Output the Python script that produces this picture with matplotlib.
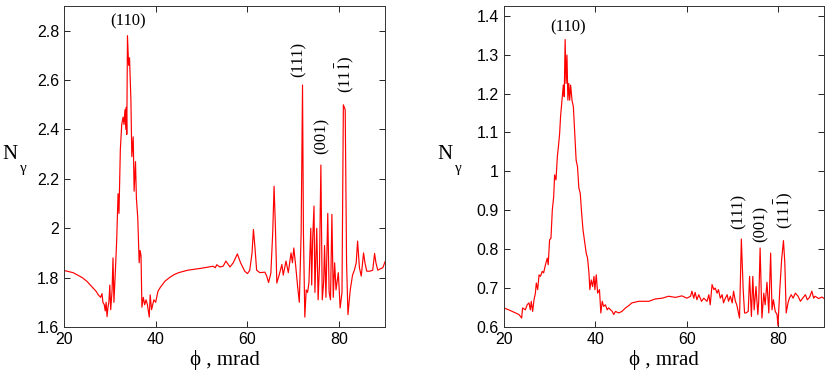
import matplotlib
matplotlib.use("Agg")
import matplotlib.pyplot as plt

plt.rcParams['mathtext.fontset'] = 'stix'

# left panel: N_gamma vs phi
phi_a = [20.0, 22.0, 24.0, 25.0, 26.0, 27.0, 27.5, 28.0, 28.3, 28.5, 28.8, 29.0, 29.2, 29.4, 29.6, 29.8,
         30.0, 30.2, 30.5, 30.7, 30.9, 31.2, 31.5, 31.8, 32.0, 32.3, 32.6, 32.9, 33.1,
         33.3, 33.5, 33.6, 33.7, 33.85, 34.1, 34.3, 34.6, 34.8, 35.1, 35.3, 35.6, 35.8,
         36.1, 36.4, 36.6, 36.8, 37.0, 37.3, 37.6, 37.9, 38.2, 38.6, 38.8, 39.1, 39.6,
         40.0, 40.5, 41.0, 42.0, 43.0, 44.0, 45.0, 47.0, 50.0, 52.5, 53.0, 53.3, 54.0, 54.7, 55.3,
         56.2, 56.9, 57.8, 58.5, 59.4, 60.0, 60.5, 61.0, 61.3, 61.6, 62.0, 62.7, 63.8,
         64.2, 64.6, 65.1, 65.5, 65.8, 66.1, 66.4, 66.9, 67.5, 67.8, 68.4, 68.9, 69.5,
         69.8, 70.1, 70.5, 70.9, 71.3, 71.7, 72.0, 72.2, 72.5, 72.8, 73.1, 73.4, 73.8,
         74.0, 74.2, 74.5, 74.7, 75.1, 75.4, 75.7, 76.0, 76.3, 76.6, 76.8, 77.1, 77.5,
         77.8, 78.1, 78.4, 78.7, 79.0, 79.3, 79.8, 80.2, 80.6, 80.9, 81.3, 81.6, 81.9,
         82.4, 82.9, 83.3, 83.7, 84.0, 84.4, 84.8, 85.3, 85.6, 86.0, 86.7, 87.3, 87.7,
         88.0, 88.4, 88.9, 89.5, 90.0]
n_a = [1.829, 1.82, 1.80, 1.785, 1.765, 1.745, 1.73, 1.72, 1.735, 1.70, 1.69, 1.665, 1.70, 1.642, 1.68, 1.70,
       1.77, 1.67, 1.75, 1.88, 1.70, 1.82, 1.95, 2.14, 2.06, 2.32, 2.42, 2.45, 2.42,
       2.48, 2.40, 2.49, 2.38, 2.78, 2.66, 2.69, 2.52, 2.29, 2.37, 2.15, 2.27, 2.12,
       2.04, 1.86, 1.91, 1.89, 1.68, 1.72, 1.69, 1.71, 1.69, 1.64, 1.73, 1.67, 1.71,
       1.70, 1.745, 1.76, 1.785, 1.80, 1.812, 1.82, 1.83, 1.838, 1.846, 1.84, 1.852, 1.843, 1.846, 1.867,
       1.843, 1.86, 1.896, 1.86, 1.826, 1.816, 1.83, 1.90, 1.995, 1.93, 1.83, 1.82, 1.822,
       1.806, 1.78, 1.818, 1.98, 2.17, 2.0, 1.778, 1.81, 1.853, 1.81, 1.867, 1.82, 1.90,
       1.86, 1.92, 1.85, 1.77, 1.70, 1.98, 2.58, 1.98, 1.64, 1.75, 1.74, 1.78, 2.0,
       1.77, 1.95, 2.09, 1.74, 2.0, 1.71, 1.85, 2.256, 1.71, 1.78, 1.93, 1.72, 2.06,
       1.74, 1.71, 2.056, 1.72, 1.86, 1.75, 1.82, 1.677, 1.74, 2.50, 2.48, 1.86, 1.65,
       1.75, 1.81, 1.83, 1.86, 1.948, 1.84, 1.806, 1.90, 1.86, 1.826, 1.826, 1.83, 1.898,
       1.86, 1.83, 1.835, 1.84, 1.865]

# right panel
phi_b = [20.0, 21.1, 22.2, 23.3, 23.9, 24.1, 24.7, 25.1, 25.5, 25.8, 26.0, 26.3, 26.6,
         26.9, 27.1, 27.4, 27.7, 28.0, 28.4, 28.7, 29.1, 29.5, 29.7, 30.0, 30.3, 30.6,
         30.9, 31.1, 31.4, 31.7, 32.0, 32.2, 32.4, 32.7, 33.0, 33.2, 33.4, 33.6, 33.8,
         34.0, 34.2, 34.4, 34.6, 34.9, 35.2, 35.5, 35.8, 36.1, 36.4, 36.7, 37.0, 37.3,
         37.7, 38.0, 38.3, 38.6, 38.8, 39.1, 39.4, 39.7, 39.9, 40.2, 40.5, 40.9, 41.2,
         41.5, 41.8, 42.2, 42.6, 42.9, 43.7, 44.0, 44.4, 45.1, 45.8, 46.6, 47.3, 48.0,
         49.5, 51.7, 53.1, 54.6, 56.0, 57.5, 58.9, 60.0, 60.8, 61.1, 61.5, 61.8, 62.2,
         62.6, 63.2, 63.7, 64.4, 64.8, 65.1, 65.5, 65.9, 66.2, 66.6, 66.9, 67.3, 67.7,
         68.0, 68.4, 68.8, 69.1, 69.5, 69.9, 70.2, 70.6, 70.9, 71.5, 71.9, 72.3, 72.6,
         72.9, 73.4, 73.7, 74.1, 74.4, 74.7, 75.1, 75.5, 75.7, 76.0, 76.4, 76.8, 77.1,
         77.5, 77.9, 78.3, 78.6, 78.9, 79.3, 79.7, 79.9, 80.3, 80.7, 81.1, 81.4, 81.7,
         82.1, 82.4, 82.8, 83.2, 83.7, 84.3, 84.8, 85.3, 85.9, 86.3, 86.8, 87.3, 87.7,
         88.0, 88.8, 89.5, 90.0]
n_b = [0.649, 0.644, 0.638, 0.632, 0.623, 0.649, 0.644, 0.657, 0.662, 0.644, 0.666, 0.640, 0.670,
       0.687, 0.713, 0.696, 0.734, 0.730, 0.743, 0.739, 0.760, 0.777, 0.760, 0.824, 0.828, 0.901,
       0.935, 0.991, 0.978, 1.038, 1.072, 1.098, 1.141, 1.183, 1.222, 1.192, 1.339, 1.226, 1.299,
       1.183, 1.226, 1.183, 1.222, 1.183, 1.166, 1.098, 1.029, 1.012, 0.957, 0.944, 0.893, 0.850,
       0.816, 0.790, 0.777, 0.739, 0.696, 0.721, 0.704, 0.730, 0.696, 0.734, 0.687, 0.696, 0.636,
       0.666, 0.653, 0.657, 0.644, 0.649, 0.640, 0.632, 0.640, 0.636, 0.640, 0.649, 0.655, 0.662,
       0.666, 0.666, 0.672, 0.674, 0.679, 0.676, 0.680, 0.674, 0.679, 0.692, 0.674, 0.689, 0.670,
       0.683, 0.666, 0.674, 0.666, 0.683, 0.657, 0.709, 0.696, 0.700, 0.687, 0.696, 0.674, 0.683,
       0.662, 0.674, 0.683, 0.666, 0.679, 0.662, 0.692, 0.666, 0.657, 0.623, 0.826, 0.696, 0.636,
       0.636, 0.640, 0.730, 0.627, 0.730, 0.644, 0.704, 0.632, 0.666, 0.803, 0.623, 0.687, 0.657,
       0.715, 0.636, 0.790, 0.644, 0.670, 0.640, 0.632, 0.603, 0.696, 0.773, 0.822, 0.764, 0.636,
       0.662, 0.674, 0.683, 0.674, 0.687, 0.679, 0.666, 0.674, 0.683, 0.670, 0.676, 0.692, 0.674,
       0.679, 0.673, 0.677, 0.673]

labels = ["(110)", "(111)", "(001)", r"(11$\bar{1}$)"]
lab_x = [34.0, 71.2, 76.2, 81.3]
lab_y_a = [2.836, 2.684, 2.373, 2.625]
lab_y_b = [1.371, 0.897, 0.866, 0.899]

fig = plt.figure(figsize=(8.3, 3.78), dpi=100)
ax1 = fig.add_axes([0.077, 0.135, 0.387, 0.849])
ax2 = fig.add_axes([0.607, 0.135, 0.386, 0.849])

serif = ['Liberation Serif', 'DejaVu Serif']
panels = [(ax1, phi_a, n_a, lab_y_a, (1.6, 2.9), [1.6, 1.8, 2.0, 2.2, 2.4, 2.6, 2.8],
           ['1.6', '1.8', '2', '2.2', '2.4', '2.6', '2.8']),
          (ax2, phi_b, n_b, lab_y_b, (0.6, 1.425), [0.6, 0.7, 0.8, 0.9, 1.0, 1.1, 1.2, 1.3, 1.4],
           ['0.6', '0.7', '0.8', '0.9', '1', '1.1', '1.2', '1.3', '1.4'])]

for ax, xs, ys, ly, ylim, yt, ytl in panels:
    ax.plot(xs, ys, color='red', lw=0.85)
    ax.set_xlim(20, 90)
    ax.set_ylim(*ylim)
    ax.set_xticks([20, 40, 60, 80])
    ax.set_yticks(yt)
    ax.set_yticklabels(ytl)
    ax.tick_params(direction='in', top=True, right=True, length=4, width=0.6,
                   labelsize=11.5)
    for lab in ax.get_xticklabels() + ax.get_yticklabels():
        lab.set_family('Liberation Sans')
    for s in ax.spines.values():
        s.set_linewidth(0.7)
        s.set_color('#333333')
    ax.set_xlabel("ϕ , mrad", family=serif, fontsize=15, labelpad=2)
    for i, t in enumerate(labels):
        rot = 0 if i == 0 else 90
        ax.text(lab_x[i], ly[i], t, family=serif, fontsize=12, rotation=rot,
                ha='center', va='center')

# N_gamma, upright subscript
for xn in [0.012, 0.536]:
    fig.text(xn, 0.59, "N", family=serif, fontsize=15, ha='center', va='center')
    fig.text(xn + 0.016, 0.555, "γ", family=serif, fontsize=11, ha='center', va='center')

fig.savefig("out.png", dpi=100)
